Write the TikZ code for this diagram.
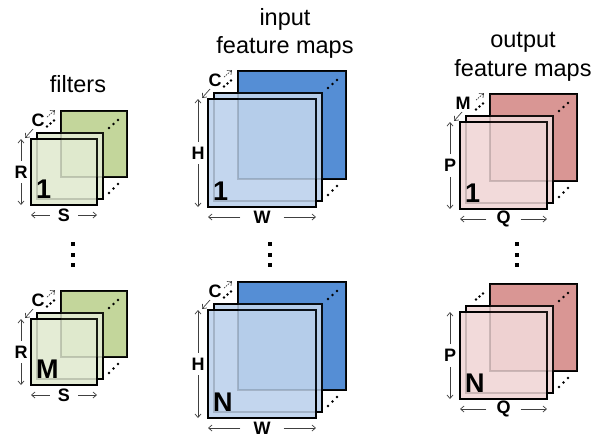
\documentclass[tikz,border=0pt]{standalone}
\usepackage{fontspec}
\setmainfont{Liberation Sans}
\usetikzlibrary{arrows.meta,calc}
\definecolor{gB}{HTML}{C3D69B}
\definecolor{gF}{HTML}{E4ECD5}
\definecolor{bB}{HTML}{558ED5}
\definecolor{bF}{HTML}{C3D6EE}
\definecolor{rB}{HTML}{D99694}
\definecolor{rF}{HTML}{F2DADA}
\definecolor{dimc}{HTML}{404040}
\begin{document}
\begin{tikzpicture}[x=1pt,y=-1pt,
  sq/.style={draw=black, line width=1.8pt, inner sep=0pt, outer sep=0pt, anchor=north west},
  ghost/.style={draw=black, draw opacity=0.16, line width=1.2pt},
  dimline/.style={draw=dimc, line width=0.7pt},
  tipend/.style={-{Straight Barb[length=3.5pt,width=6pt]}},
  dimlab/.style={font=\fontsize{18}{18}\selectfont\bfseries, inner sep=0pt},
  biglab/.style={font=\fontsize{27}{27}\selectfont\bfseries, inner sep=0pt, anchor=base west},
  title/.style={font=\fontsize{23.5}{28}\selectfont, inner sep=0pt, anchor=base},
  dot/.style={fill=black, circle, inner sep=0pt, minimum size=2.8pt},
  vdot/.style={fill=black, rectangle, inner sep=0pt, minimum size=3.8pt},
]
\useasboundingbox (0,0) rectangle (608,437);

% titles
\node[title] (tfil) at (78,92) {filters};
\node[title] (tin1) at (285,25) {input};
\node[title] (tin2) at (285,53) {feature maps};
\node[title] (tout1) at (523,47) {output};
\node[title] (tout2) at (523,76) {feature maps};

% stacks
\foreach \g/\x/\y/\s/\bc/\fc/\big/\vl/\hl/\hs in {
  ft/31/139/66/gB/gF/1/R/S/8,
  fb/31/319/66/gB/gF/M/R/S/8,
  it/208/99/108/bB/bF/1/H/W/13,
  ib/208/310/108/bB/bF/N/H/W/13,
  ot/460/122/87/rB/rF/1/P/Q/10,
  ob/460/312/87/rB/rF/N/P/Q/10}{
  \node[sq, fill=\bc, minimum size=\s pt] (\g-back) at (\x+30,\y-28) {};
  \node[sq, fill=\fc, minimum size=\s pt] (\g-mid) at (\x+6,\y-6) {};
  \node[sq, fill=\fc, minimum size=\s pt] (\g-front) at (\x,\y) {};
  % faint see-through edges
  \draw[ghost, fill=\bc, fill opacity=0.12] (\g-back.north west) rectangle (\g-back.south east);
  \draw[ghost] (\g-mid.north west) rectangle (\g-mid.south east);
  % big label
  \node[biglab] (\g-big) at ($(\g-front.south west)+(5,-7)$) {\big};
  % dots in back square and at lower right
  \foreach \i/\dx/\dy in {1/-18/17, 2/-13.5/13, 3/-9/9}
    \node[dot] (\g-bd\i) at ($(\g-back.north east)+(\dx,\dy)$) {};
  \foreach \i/\dx/\dy in {1/6/-6, 2/10.5/-10.5, 3/15/-15}
    \node[dot] (\g-rd\i) at ($(\g-mid.south east)+(\dx,\dy)$) {};
  \foreach \i/\dx/\dy in {1/16/-12.5, 2/19.5/-15.5, 3/23/-18.5}
    \node[dot] (\g-dd\i) at ($(\g-front.north west)+(\dx,\dy)$) {};
  % vertical dimension
  \node[dimlab, inner ysep=5pt] (\g-vl) at ($(\g-front.west)+(-10,0)$) {\vl};
  \coordinate (\g-vt) at ($(\g-front.north west)+(-10,0)$);
  \coordinate (\g-vb) at ($(\g-front.south west)+(-10,0)$);
  \draw[dimline, tipend] (\g-vl) -- (\g-vt);
  \draw[dimline, tipend] (\g-vl) -- (\g-vb);
  % horizontal dimension
  \node[dimlab, inner xsep=\hs pt] (\g-hl) at ($(\g-front.south)+(0,10)$) {\hl};
  \coordinate (\g-hw) at ($(\g-front.south west)+(0,10)$);
  \coordinate (\g-he) at ($(\g-front.south east)+(0,10)$);
  \draw[dimline, tipend] (\g-hl) -- (\g-hw);
  \draw[dimline, tipend] (\g-hl) -- (\g-he);
}

% depth labels
\foreach \g/\dl/\lx in {ft/C/7, fb/C/7, it/C/7, ib/C/7, ot/M/3}{
  \node[dimlab] (\g-dl) at ($(\g-front.north west)+(\lx,-19)$) {\dl};
  \coordinate (\g-ds) at ($(\g-front.north west)+(2,-10)$);
  \coordinate (\g-dt) at ($(\g-front.north west)+(-6,-1)$);
  \coordinate (\g-es) at ($(\g-front.north west)+(16,-22)$);
  \coordinate (\g-et) at ($(\g-front.north west)+(24,-29)$);
  \draw[dimline, tipend] (\g-ds) -- (\g-dt);
  \draw[dimline, tipend, dash pattern=on 1.5pt off 1pt] (\g-es) -- (\g-et);
}

% vertical ellipses
\foreach \c/\vx in {f/73, i/270, o/517}
  \foreach \j/\vy in {1/244, 2/255, 3/265}
    \node[vdot] (v\c\j) at (\vx,\vy) {};
\end{tikzpicture}
\end{document}
